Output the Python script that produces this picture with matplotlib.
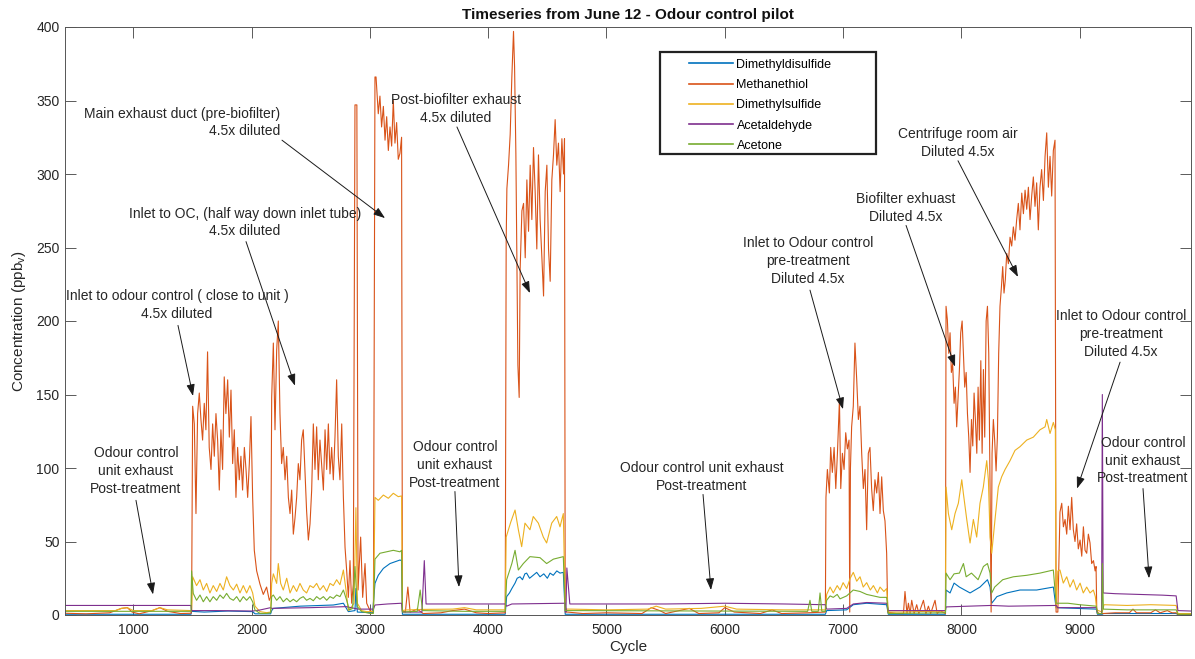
from __future__ import annotations

from typing import Dict, List, Tuple

import matplotlib

matplotlib.use("Agg")
import matplotlib.pyplot as plt
import numpy as np
from matplotlib.patches import Rectangle

plt.rcParams["font.family"] = ["Liberation Sans", "DejaVu Sans"]
plt.rcParams["mathtext.fontset"] = "custom"
plt.rcParams["mathtext.rm"] = "Liberation Sans"

# (cycle, ppbv) samples per compound
DIMETHYLDISULFIDE = [
    (423, 0.5), (1488, 0.5), (1493, 2.5), (1600, 2.0), (1800, 2.7), (2009, 2.3), (2029, 0.8),
    (2161, 0.8), (2170, 3.0), (2184, 4.5), (2409, 6.0), (2691, 6.8), (2776, 8.0), (2818, 2.3),
    (2874, 3.0), (2882, 18.0), (2894, 2.0), (3023, 1.5), (3043, 21.5), (3071, 27.0), (3114, 31.7),
    (3170, 35.0), (3254, 37.4), (3268, 37.0), (3275, 0.5), (4144, 0.5),
    (4156, 12.5), (4180, 15.0), (4200, 18.0), (4227, 21.7), (4245, 25.0), (4269, 26.0), (4290, 24.0),
    (4310, 28.0), (4325, 28.5), (4350, 25.0), (4380, 27.0), (4410, 29.0), (4438, 26.0), (4470, 28.0),
    (4500, 25.0), (4523, 28.5), (4550, 27.0), (4580, 30.0), (4607, 28.5), (4635, 29.0), (4651, 0.5),
    (6850, 0.5), (6861, 3.0), (7030, 3.5), (7086, 7.0), (7200, 8.0), (7368, 7.0), (7382, 0.5),
    (7865, 0.5), (7870, 17.0), (7904, 15.0), (7938, 21.7), (7983, 19.0), (8073, 15.0), (8157, 19.0),
    (8220, 24.0), (8242, 19.0), (8256, 8.0), (8300, 12.5), (8383, 15.0), (8495, 17.0), (8636, 17.0),
    (8777, 19.0), (8800, 5.0), (9140, 4.0), (9150, 0.5), (9191, 0.5), (9200, 1.0), (9815, 1.0),
    (9830, 0.3), (9938, 0.3),
]

METHANETHIOL = [
    (423, 1.2), (600, 0.8), (800, 1.5), (900, 4.5), (950, 5.0), (990, 2.0), (1050, 0.8), (1160, 3.0),
    (1225, 5.0), (1290, 2.5), (1400, 1.0), (1488, 1.2),
    (1493, 3), (1502, 142), (1516, 130), (1530, 69), (1544, 137), (1558, 151), (1572, 133), (1586, 119),
    (1600, 144), (1614, 126), (1628, 179), (1642, 114), (1657, 99), (1671, 130), (1685, 108), (1699, 137),
    (1713, 119), (1727, 85), (1741, 126), (1755, 99), (1769, 162), (1783, 137), (1798, 160), (1812, 121),
    (1826, 153), (1840, 103), (1854, 126), (1868, 80), (1882, 114), (1896, 92), (1910, 108), (1924, 85),
    (1939, 114), (1953, 99), (1967, 80), (1981, 103), (1995, 135), (2009, 80), (2023, 44), (2043, 30),
    (2071, 21), (2099, 14), (2127, 19), (2150, 10), (2161, 12),
    (2170, 148), (2184, 185), (2198, 126), (2212, 180), (2226, 200), (2240, 137), (2254, 103), (2268, 114),
    (2283, 92), (2297, 108), (2311, 80), (2325, 69), (2339, 85), (2353, 55), (2367, 66), (2381, 80),
    (2395, 103), (2409, 92), (2423, 119), (2437, 126), (2451, 99), (2465, 71), (2480, 51), (2494, 62),
    (2508, 85), (2522, 130), (2536, 99), (2550, 128), (2564, 92), (2578, 119), (2592, 103), (2607, 85),
    (2621, 126), (2635, 99), (2649, 130), (2663, 96), (2677, 114), (2691, 92), (2705, 121), (2719, 160),
    (2733, 108), (2747, 92), (2762, 130), (2776, 80), (2790, 46), (2804, 30), (2818, 12), (2832, 37),
    (2846, 8), (2860, 21), (2874, 347), (2890, 347), (2900, 17), (2922, 53), (2939, 12), (2959, 35),
    (2973, 8), (3001, 3), (3030, 2),
    (3043, 366), (3052, 366), (3071, 341), (3085, 353), (3099, 332), (3114, 346), (3128, 323), (3142, 339),
    (3156, 316), (3170, 332), (3184, 319), (3198, 350), (3212, 321), (3226, 335), (3240, 310), (3254, 314),
    (3268, 325), (3275, 3),
    (3300, 2), (3321, 19), (3340, 2), (3400, 4), (3450, 1), (3600, 1.5), (3700, 3), (3800, 4), (3900, 1.5),
    (4000, 1), (4144, 1.5),
    (4152, 254), (4158, 290), (4172, 306), (4186, 327), (4200, 366), (4214, 397), (4223, 373), (4234, 314),
    (4242, 249), (4251, 170), (4262, 148), (4270, 235), (4285, 275), (4299, 280), (4313, 243), (4327, 296),
    (4341, 261), (4355, 306), (4369, 269), (4383, 318), (4397, 288), (4411, 249), (4425, 313), (4439, 269),
    (4454, 243), (4468, 217), (4482, 288), (4496, 306), (4510, 249), (4524, 227), (4538, 296), (4552, 313),
    (4566, 337), (4580, 306), (4594, 321), (4608, 288), (4623, 324), (4637, 300), (4645, 324), (4651, 2),
    (4670, 2), (4800, 1), (5000, 1.5), (5300, 1), (5380, 5), (5450, 3), (5500, 1), (5700, 4.5), (5780, 1),
    (5950, 1.5), (6000, 5), (6080, 2), (6300, 1), (6400, 3.5), (6480, 1), (6700, 1.5), (6850, 2),
    (6855, 80), (6867, 99), (6884, 83), (6895, 114), (6909, 97), (6924, 114), (6938, 86), (6952, 110),
    (6969, 146), (6980, 86), (6994, 110), (7008, 99), (7022, 124), (7036, 113), (7050, 119), (7056, 2),
    (7062, 100), (7072, 128), (7086, 142), (7100, 185), (7115, 160), (7129, 133), (7143, 142), (7157, 110),
    (7171, 86), (7185, 99), (7199, 58), (7213, 110), (7227, 114), (7241, 86), (7255, 71), (7269, 92),
    (7284, 83), (7298, 97), (7312, 69), (7326, 94), (7340, 71), (7354, 64), (7368, 42), (7377, 2),
    (7450, 1), (7510, 1), (7523, 16), (7540, 1), (7552, 8), (7566, 1), (7580, 10), (7600, 1), (7622, 7),
    (7640, 1), (7679, 10), (7700, 1), (7721, 6), (7740, 1), (7777, 10), (7795, 1), (7819, 3), (7865, 1),
    (7870, 210), (7881, 201), (7893, 178), (7904, 192), (7915, 165), (7926, 171), (7938, 144), (7949, 155),
    (7960, 128), (7972, 148), (7983, 167), (7994, 192), (8006, 200), (8017, 178), (8028, 155), (8040, 165),
    (8051, 137), (8062, 121), (8073, 97), (8085, 133), (8096, 115), (8107, 151), (8118, 133), (8130, 110),
    (8141, 155), (8152, 119), (8164, 173), (8175, 110), (8186, 167), (8197, 121), (8209, 200), (8220, 210),
    (8231, 178), (8242, 87), (8251, 2), (8259, 110), (8270, 133), (8281, 119), (8293, 98), (8304, 121),
    (8315, 178), (8326, 210), (8338, 223), (8349, 237), (8360, 219), (8371, 228), (8383, 246), (8397, 239),
    (8411, 257), (8425, 251), (8439, 264), (8453, 255), (8467, 269), (8481, 280), (8495, 262), (8510, 287),
    (8524, 273), (8538, 289), (8552, 276), (8566, 291), (8580, 269), (8594, 285), (8608, 298), (8622, 278),
    (8636, 294), (8650, 262), (8664, 291), (8678, 303), (8693, 282), (8707, 312), (8721, 328), (8735, 291),
    (8749, 312), (8763, 285), (8777, 316), (8791, 323), (8800, 2),
    (8815, 2), (8833, 70), (8848, 76), (8862, 60), (8876, 65), (8890, 55), (8904, 74), (8918, 58),
    (8932, 80), (8946, 58), (8960, 50), (8974, 62), (8988, 45), (9003, 51), (9017, 40), (9031, 60),
    (9045, 44), (9059, 42), (9073, 55), (9087, 49), (9101, 35), (9116, 37), (9130, 30), (9138, 33),
    (9144, 3), (9160, 1), (9200, 1), (9300, 1.5), (9420, 1.5), (9450, 4), (9480, 1.5), (9600, 1.5),
    (9640, 3.5), (9680, 1.5), (9740, 3), (9780, 1.5), (9815, 1.5), (9830, 0.5), (9938, 0.5),
]

DIMETHYLSULFIDE = [
    (423, 3), (850, 3), (900, 4.5), (950, 5), (1000, 3), (1160, 3), (1225, 5), (1290, 3.5), (1488, 3),
    (1493, 3), (1502, 26), (1535, 20), (1564, 24), (1592, 17), (1620, 21.5), (1648, 15), (1676, 20),
    (1705, 16), (1733, 21.5), (1761, 17), (1789, 26), (1817, 20), (1846, 17), (1874, 21), (1902, 15),
    (1930, 20), (1958, 15), (1986, 20), (2009, 15), (2029, 6), (2071, 2.3), (2127, 1.6), (2161, 2),
    (2170, 21.5), (2184, 28), (2212, 21.5), (2226, 35), (2246, 21.5), (2268, 17), (2297, 25), (2325, 15),
    (2353, 20), (2381, 16), (2409, 21.5), (2437, 17), (2465, 15), (2494, 20), (2522, 18.6), (2550, 21.5),
    (2578, 17), (2607, 20), (2635, 16), (2663, 21.5), (2691, 20), (2719, 24), (2747, 20.6), (2776, 30.6),
    (2798, 17), (2818, 3), (2846, 5.7), (2866, 8), (2882, 73), (2894, 8), (2930, 3), (2973, 2.3),
    (3030, 2.3), (3043, 80), (3071, 78), (3114, 81.6), (3156, 79.4), (3198, 82.8), (3240, 80.5),
    (3268, 81), (3275, 3), (3300, 3.4), (3450, 3.8), (3700, 4), (3800, 5), (3900, 3.5), (4144, 3.5),
    (4152, 53), (4190, 63), (4227, 71.4), (4255, 58), (4283, 46.5), (4311, 62.5), (4353, 58), (4381, 67),
    (4424, 62.5), (4466, 53), (4494, 49), (4537, 62.5), (4579, 67), (4607, 60), (4635, 69), (4651, 4),
    (4700, 4), (5000, 3.5), (5350, 4), (5420, 6), (5500, 4), (5800, 4.5), (6000, 6), (6100, 4),
    (6500, 3.5), (6850, 3.5),
    (6861, 14), (6890, 19), (6917, 15), (6950, 20), (6974, 17), (7000, 22), (7030, 18), (7060, 25),
    (7086, 29), (7115, 23), (7143, 26), (7170, 19), (7199, 22), (7230, 17), (7256, 20), (7290, 15),
    (7312, 19), (7345, 16), (7368, 18), (7382, 2), (7500, 2), (7700, 2.5), (7865, 2),
    (7870, 87), (7890, 69), (7918, 58), (7946, 69), (7974, 76), (8003, 92), (8016, 83), (8045, 65),
    (8073, 49), (8101, 65), (8129, 53), (8157, 76), (8185, 87), (8214, 105), (8228, 92), (8242, 53),
    (8256, 42), (8284, 65), (8312, 87), (8340, 94), (8369, 99), (8411, 105), (8453, 112), (8495, 114.5),
    (8552, 119), (8608, 121), (8664, 126), (8707, 128), (8721, 133), (8749, 123.5), (8777, 131),
    (8794, 126), (8800, 5),
    (8815, 30), (8833, 30.6), (8861, 21.7), (8890, 26), (8918, 19), (8946, 24), (8974, 17), (9003, 21.7),
    (9030, 15), (9059, 19), (9087, 15), (9115, 17), (9132, 12.5), (9144, 3.4), (9190, 2), (9205, 7),
    (9400, 6.5), (9600, 7), (9815, 6.5), (9830, 1), (9938, 1),
]

ACETALDEHYDE = [
    (423, 6.5), (1488, 6.5), (1493, 3), (1700, 3), (2009, 2.7), (2071, 3.4), (2161, 5), (2170, 4.5),
    (2500, 5), (2800, 5.7), (2900, 4), (3030, 4), (3043, 6.8), (3150, 7.5), (3268, 8), (3275, 2),
    (3440, 2), (3460, 37), (3475, 7.5), (4144, 7.5), (4156, 6), (4200, 7.5), (4651, 8), (4657, 2),
    (4665, 32), (4690, 7.5), (5500, 7.5), (6000, 8), (6500, 7.5), (6850, 7), (6861, 4), (7030, 4.5),
    (7086, 7.5), (7200, 8.5), (7368, 8), (7382, 3), (7865, 3), (7870, 5.5), (8250, 6.5), (8400, 6),
    (8800, 6.5), (8815, 5), (9140, 5), (9150, 1), (9185, 1), (9191, 150), (9198, 15), (9300, 14.5),
    (9500, 14), (9700, 13.5), (9815, 13), (9830, 3), (9938, 2.7),
]

ACETONE = [
    (423, 2.5), (1488, 2.5), (1493, 30), (1507, 14.7), (1535, 10), (1564, 13.6), (1592, 9), (1620, 12.5),
    (1648, 9), (1676, 12.5), (1705, 10), (1733, 13.6), (1761, 11.3), (1789, 14.7), (1817, 11.3),
    (1846, 10), (1874, 12.5), (1902, 9), (1930, 12.5), (1958, 10), (1986, 12.5), (2009, 9), (2029, 3.4),
    (2071, 1.1), (2127, 1.1), (2161, 1.5),
    (2170, 12.5), (2184, 13.6), (2212, 10), (2240, 12.5), (2268, 9), (2297, 11.3), (2325, 9), (2353, 10.7),
    (2381, 9), (2409, 11.3), (2437, 12.5), (2465, 10), (2494, 11.3), (2522, 9.7), (2550, 12.5),
    (2578, 10.7), (2607, 12.5), (2635, 10), (2663, 12.5), (2691, 11.3), (2719, 13.6), (2747, 12.5),
    (2776, 17), (2804, 10), (2826, 3.4), (2854, 4.5), (2874, 33), (2894, 5.7), (2930, 2.3), (3001, 1.1),
    (3030, 1.1), (3043, 38), (3085, 42), (3142, 43), (3198, 44), (3254, 43), (3268, 44), (3275, 2),
    (3400, 2.5), (3425, 17), (3445, 3), (3800, 2.5), (4144, 2.5),
    (4156, 24), (4200, 35), (4227, 44), (4255, 30.6), (4297, 35), (4353, 39.7), (4438, 39), (4494, 35),
    (4551, 38), (4635, 39.7), (4651, 3), (4700, 3), (6700, 2.5), (6720, 10), (6735, 2.5), (6790, 2.5),
    (6805, 15), (6820, 2.5), (6850, 2.5),
    (6861, 10), (6890, 13), (6917, 12), (6950, 14), (6974, 11), (7030, 13), (7086, 17), (7143, 16),
    (7199, 14), (7256, 13), (7312, 12), (7368, 12), (7382, 1), (7865, 1.5),
    (7870, 28.5), (7904, 24), (7938, 28), (7983, 28.5), (8017, 35), (8040, 26), (8085, 28.5), (8141, 24),
    (8186, 33), (8220, 35), (8242, 28.5), (8256, 15), (8281, 19), (8349, 24), (8439, 26), (8552, 27),
    (8664, 28.5), (8777, 30.6), (8800, 8), (8900, 8), (9000, 7), (9140, 6), (9150, 1), (9188, 1),
    (9191, 35), (9200, 4), (9400, 3.5), (9815, 3.5), (9830, 0.5), (9938, 0.5),
]

SERIES_NAMES = ["Dimethyldisulfide", "Methanethiol", "Dimethylsulfide", "Acetaldehyde", "Acetone"]
SERIES_DATA = [DIMETHYLDISULFIDE, METHANETHIOL, DIMETHYLSULFIDE, ACETALDEHYDE, ACETONE]

LINE_COLORS: Dict[str, str] = {
    "Dimethyldisulfide": "#0072BD",
    "Methanethiol": "#D95319",
    "Dimethylsulfide": "#EDB120",
    "Acetaldehyde": "#7E2F8E",
    "Acetone": "#77AC30",
}

X_TICKS = [1000, 2000, 3000, 4000, 5000, 6000, 7000, 8000, 9000]
Y_TICKS = [0, 50, 100, 150, 200, 250, 300, 350, 400]

# sample-location notes: (text, text anchor, horizontal alignment, arrow tail, arrow tip)
NOTES: List[Tuple[str, Tuple[float, float], str, Tuple[float, float], Tuple[float, float]]] = [
    ("Main exhaust duct (pre-biofilter)\n4.5x diluted", (2240, 335), "right", (2257, 323), (3128, 270)),
    ("Inlet to OC, (half way down inlet tube)\n4.5x diluted", (1944, 267), "center", (1953, 254), (2367, 156)),
    ("Inlet to odour control ( close to unit )\n4.5x diluted", (1369, 211), "center", (1378, 197), (1505, 149)),
    ("Odour control\nunit exhaust\nPost-treatment", (1023, 98), "center", (1023, 78), (1167, 14)),
    ("Post-biofilter exhaust\n4.5x diluted", (3728, 344), "center", (3736, 332), (4353, 219)),
    ("Odour control\nunit exhaust\nPost-treatment", (3719, 102), "center", (3719, 84), (3753, 19)),
    ("Odour control unit exhaust\nPost-treatment", (5807, 94), "center", (5816, 82), (5883, 17)),
    ("Inlet to Odour control\npre-treatment\nDiluted 4.5x", (6703, 241), "center", (6720, 221), (6999, 140)),
    ("Biofilter exhuast\nDiluted 4.5x", (7532, 277), "center", (7532, 265), (7946, 169)),
    ("Centrifuge room air\nDiluted 4.5x", (7971, 321), "center", (7971, 309), (8478, 230)),
    ("Inlet to Odour control\npre-treatment\nDiluted 4.5x", (9349, 191), "center", (9341, 172), (8977, 86)),
    ("Odour control\nunit exhaust\nPost-treatment", (9535, 105), "center", (9535, 86), (9586, 25)),
]

TEXT_COLOR = "#262626"


def draw_series(ax: plt.Axes) -> None:
    for name, samples in zip(SERIES_NAMES, SERIES_DATA):
        arr = np.array(samples, dtype=float)
        ax.plot(arr[:, 0], arr[:, 1], color=LINE_COLORS[name], linewidth=0.8, label=name)


def draw_notes(ax: plt.Axes) -> None:
    for text, anchor, align, tail, tip in NOTES:
        ax.text(
            anchor[0], anchor[1], text,
            ha=align, va="center", multialignment=align,
            fontsize=10, color=TEXT_COLOR, linespacing=1.35, zorder=10,
        )
        ax.annotate(
            "", xy=tip, xytext=tail,
            arrowprops=dict(
                arrowstyle="-|>,head_length=0.7,head_width=0.25",
                color="#1a1a1a", lw=0.7, shrinkA=0, shrinkB=0,
            ),
            zorder=10,
        )


def draw_legend(ax: plt.Axes) -> None:
    # boxed legend with a wide left margin, frame drawn as its own patch
    ax.add_patch(Rectangle(
        (0.5286, 0.784), 0.1919, 0.1735, transform=ax.transAxes,
        facecolor="white", edgecolor="#222222", linewidth=1.6, zorder=4.9,
    ))
    leg = ax.legend(
        loc="upper left", bbox_to_anchor=(0.5543, 0.946), frameon=False,
        fontsize=9, handlelength=3.5, handletextpad=0.3, labelspacing=0.66,
        borderaxespad=0, borderpad=0,
    )
    leg.set_zorder(5)
    for line in leg.get_lines():
        line.set_linewidth(1.2)


def style_axes(ax: plt.Axes) -> None:
    ax.set_xlim(423, 9938)
    ax.set_ylim(0, 400)
    ax.set_xticks(X_TICKS)
    ax.set_yticks(Y_TICKS)
    ax.tick_params(
        direction="in", length=7.7, width=0.6, color="#404040",
        labelsize=10, labelcolor=TEXT_COLOR, top=True, right=True, pad=4,
    )
    ax.tick_params(axis="x", pad=6)
    for spine in ax.spines.values():
        spine.set_color("#555555")
        spine.set_linewidth(0.7)
    ax.set_xlabel("Cycle", fontsize=11, color=TEXT_COLOR, labelpad=2)
    ax.set_ylabel(r"Concentration (ppb$_\mathregular{v}$)", fontsize=11, color=TEXT_COLOR, labelpad=6)
    ax.set_title("Timeseries from June 12 - Odour control pilot", fontsize=11, fontweight="bold",
                 color="#111111", pad=6)


def main() -> None:
    fig = plt.figure(figsize=(11.95, 6.59), dpi=100)
    ax = fig.add_axes([65 / 1195, 1 - 615 / 659, 1125.7 / 1195, 588 / 659])
    draw_series(ax)
    style_axes(ax)
    draw_notes(ax)
    draw_legend(ax)

    fig.savefig("out.png", dpi=100)
    plt.close(fig)


if __name__ == "__main__":
    main()
